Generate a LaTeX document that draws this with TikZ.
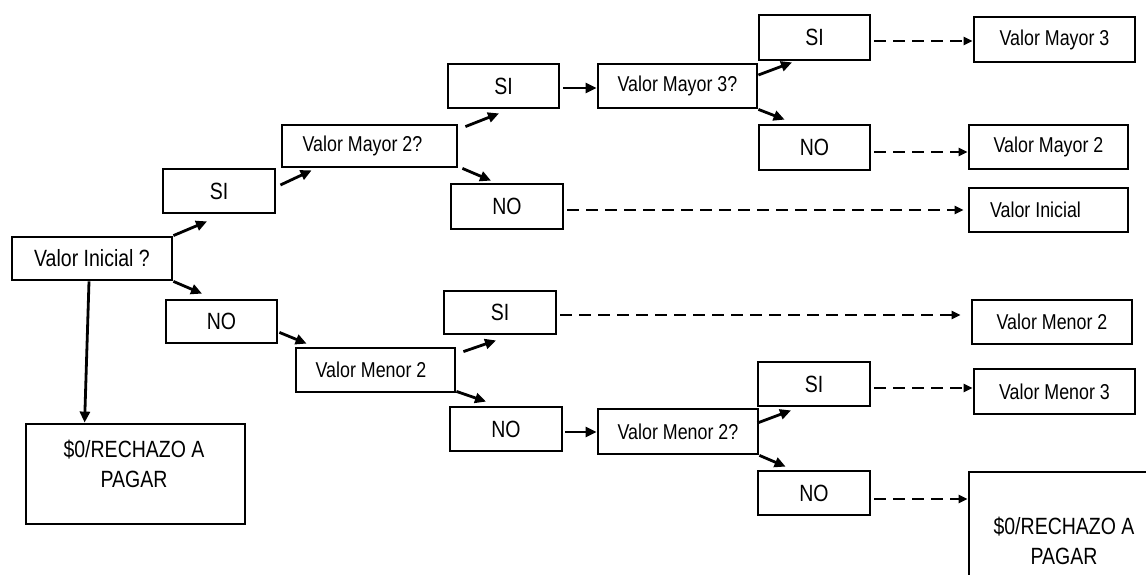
\documentclass[tikz,border=0pt]{standalone}
\usepackage{fontspec}
\setmainfont{Liberation Sans}[FakeStretch=0.83]
\usetikzlibrary{arrows.meta,calc}
\newcommand\fbig{\fontsize{23.5}{30}\selectfont}
\newcommand\fsmall{\fontsize{21.5}{26}\selectfont}

\begin{document}
\begin{tikzpicture}[x=1pt,y=-1pt,
  box/.style={draw, line width=2.8pt, inner sep=0pt, font=\fbig},
  qbox/.style={box, font=\fsmall},
  boxtext/.style={font=\fbig, align=center, inner sep=0pt},
  flow/.style={line width=2.8pt, -{Triangle[length=11pt,width=10pt]}},
  lead/.style={line width=2.8pt, dash pattern=on 12pt off 7pt, -{Triangle[length=9pt,width=8pt]}}]
\useasboundingbox (0,0) rectangle (1146,575);
\clip (0,0) rectangle (1146,575);

% first decision and its branches
\node[box, minimum width=160pt, minimum height=43pt] (vi) at (92,258.5) {Valor Inicial ?};
\node[box, minimum width=112pt, minimum height=44pt] (si1) at (219,191) {SI};
\node[box, minimum width=111pt, minimum height=43pt] (no1) at (221.5,321.5) {NO};
\node[box, minimum width=219pt, minimum height=100pt] (lz) at (135.5,474) {};
\node[boxtext] (lzt) at (134,464) {\$0/RECHAZO A\\PAGAR};

% upper branch
\node[qbox, minimum width=175pt, minimum height=42pt] (vm2) at (369.5,146) {Valor Mayor 2?\hspace*{14pt}};
\node[box, minimum width=111pt, minimum height=44pt] (si2) at (503.5,86) {SI};
\node[box, minimum width=112pt, minimum height=45pt] (no2) at (507,206.5) {NO};
\node[qbox, minimum width=159pt, minimum height=44pt] (vm3) at (677.5,86) {Valor Mayor 3?};
\node[box, minimum width=111pt, minimum height=45pt] (si3) at (814.5,37.5) {SI};
\node[box, minimum width=111pt, minimum height=45pt] (no3) at (814.5,147.5) {NO};
\node[qbox, minimum width=161pt, minimum height=45pt] (r1) at (1054.5,39.5) {Valor Mayor 3};
\node[qbox, minimum width=159pt, minimum height=44pt] (r2) at (1048.5,147) {Valor Mayor 2};
\node[qbox, minimum width=159pt, minimum height=44pt] (r3) at (1048.5,210) {Valor Inicial\hspace*{26pt}};

% lower branch
\node[qbox, minimum width=159pt, minimum height=44pt] (vn2) at (375.5,370) {Valor Menor 2\hspace*{9pt}};
\node[box, minimum width=112pt, minimum height=43pt] (si4) at (500,312.5) {SI};
\node[box, minimum width=112pt, minimum height=44pt] (no4) at (506,429) {NO};
\node[qbox, minimum width=160pt, minimum height=45pt] (vn2q) at (678,431.5) {Valor Menor 2?};
\node[box, minimum width=112pt, minimum height=44pt] (si5) at (814,384) {SI};
\node[box, minimum width=112pt, minimum height=44pt] (no5) at (814,493) {NO};
\node[qbox, minimum width=160pt, minimum height=44pt] (r4) at (1052,322) {Valor Menor 2};
\node[qbox, minimum width=161pt, minimum height=45pt] (r5) at (1054.5,391.5) {Valor Menor 3};
\node[box, minimum width=190pt, minimum height=156pt] (rz) at (1064,550) {};
\node[boxtext] (rzt) at (1064,540.5) {\$0/RECHAZO A\\PAGAR};

% solid decision arrows
\draw[flow] (vi.north east) -- ($(si1.south)+(-12,7)$);
\draw[flow] (vi.south east) -- ($(no1.north)+(-19.5,-5)$);
\draw[flow] ($(vi.south)+(-3,0)$) -- ($(lz.north west)+(60,0)$);
\draw[flow] ($(si1.east)+(4,-6)$) -- ($(vm2.south west)+(31,2)$);
\draw[flow] ($(vm2.north east)+(7,3)$) -- ($(si2.south)+(-4.5,4)$);
\draw[flow] ($(vm2.south east)+(4,0)$) -- ($(no2.north)+(-16,-2)$);
\draw[flow] ($(si2.east)+(3,2)$) -- ($(vm3.west)+(0,2)$);
\draw[flow] ($(vm3.east)+(0,-11)$) -- ($(si3.south)+(-22.5,1)$);
\draw[flow] (vm3.south east) -- ($(no3.north west)+(27,-4)$);
\draw[flow] ($(no1.south east)+(1,-12)$) -- ($(vn2.north west)+(12,-3)$);
\draw[flow] ($(vn2.north east)+(7,5)$) -- ($(si4.south)+(-4,5)$);
\draw[flow] ($(vn2.south east)+(0,-2)$) -- ($(no4.north)+(-20,-4)$);
\draw[flow] ($(no4.east)+(2,3)$) -- ($(vn2q.west)+(0,0.5)$);
\draw[flow] ($(vn2q.east)+(-2,-8.5)$) -- ($(si5.south)+(-23,3)$);
\draw[flow] (vn2q.south east) -- ($(no5.north west)+(29,-3)$);

% dashed arrows to the outcomes
\coordinate (d1) at ($(si3.east)+(3,3.5)$);
\coordinate (d2) at ($(no3.east)+(3,4.5)$);
\coordinate (d3) at ($(no2.east)+(3,3.5)$);
\coordinate (d4) at ($(si4.east)+(3,2.5)$);
\coordinate (d5) at ($(si5.east)+(3,4)$);
\coordinate (d6) at ($(no5.east)+(3,6)$);
\draw[lead] (d1) -- (d1 -| r1.west);
\draw[lead] (d2) -- (d2 -| r2.west);
\draw[lead] (d3) -- ($(d3 -| r3.west)+(-4,0)$);
\draw[lead] (d4) -- ($(d4 -| r4.west)+(-10,0)$);
\draw[lead] (d5) -- (d5 -| r5.west);
\draw[lead] (d6) -- (d6 -| rz.west);
\end{tikzpicture}
\end{document}
